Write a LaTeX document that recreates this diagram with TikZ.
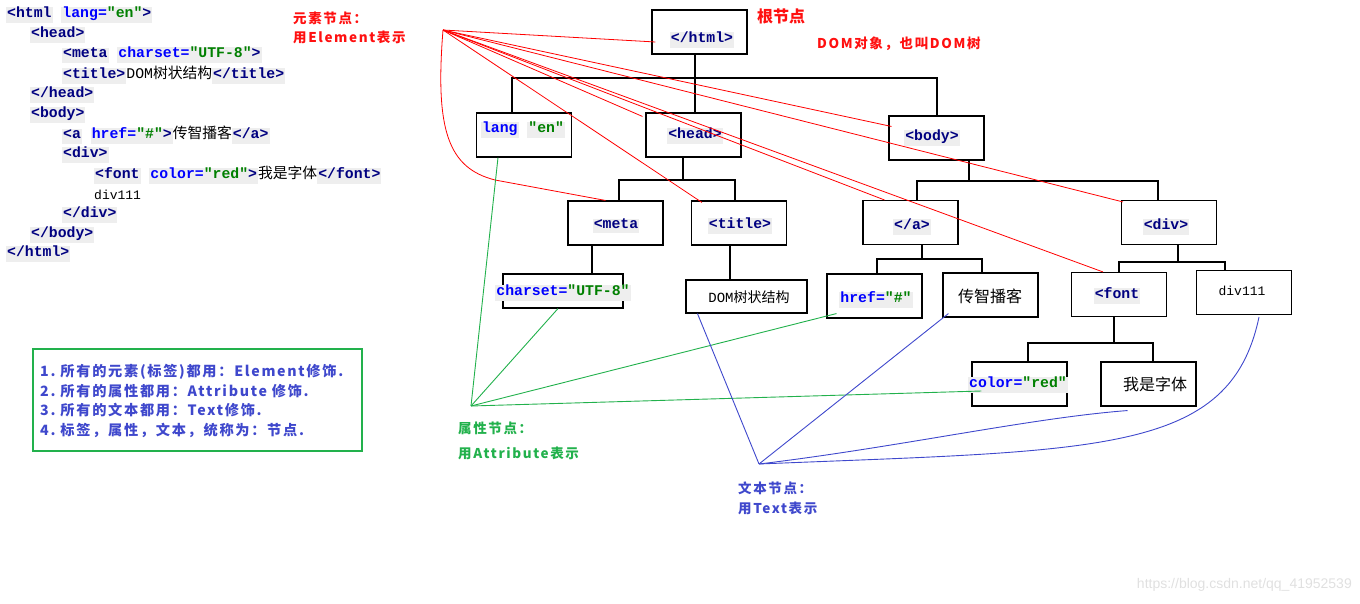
\documentclass[tikz,border=0pt]{standalone}
\usepackage{fontspec}
\setmainfont{Liberation Serif}
\newfontfamily\codefont{Liberation Mono}
\newfontfamily\cjk{Noto Sans CJK SC}
\newfontfamily\notefont{Noto Sans CJK SC}[LetterSpace=12]
\newfontfamily\wmfont{Liberation Sans}
\usetikzlibrary{positioning}

\definecolor{tagblue}{HTML}{000080}
\definecolor{attrblue}{HTML}{0000FF}
\definecolor{valgreen}{HTML}{008000}
\definecolor{codebg}{HTML}{EEEEEE}
\definecolor{notered}{HTML}{FF1010}
\definecolor{attrgreen}{HTML}{22B14C}
\definecolor{textblue}{HTML}{3F48CC}

\newcommand\tagtxt[1]{\textcolor{tagblue}{#1}}
\newcommand\attrtxt[1]{\textcolor{attrblue}{#1}}
\newcommand\valtxt[1]{\textcolor{valgreen}{#1}}
\newcommand\cstrut{\rule[-5pt]{0pt}{14.5pt}}
\newcommand\codehl[1]{{\setlength\fboxsep{0pt}\colorbox{codebg}{\kern1pt\cstrut#1\kern1pt}}}

\begin{document}
\begin{tikzpicture}[x=1pt,y=-1pt,
  code/.style={anchor=west, inner sep=0pt, font={\codefont\bfseries\fontsize{14.8}{20}\selectfont}},
  lbl/.style={inner sep=0pt, font={\codefont\bfseries\fontsize{14.8}{20}\selectfont}},
  plain/.style={inner sep=0pt, font={\codefont\fontsize{13}{20}\selectfont}},
  hanzi/.style={inner sep=0pt, font={\cjk\fontsize{16}{20}\selectfont}},
  box/.style={draw, line width=1.1pt, minimum width=95pt, minimum height=44pt, inner sep=0pt},
  tree/.style={line width=1.1pt},
  note/.style={anchor=west, inner sep=0pt, font={\notefont\bfseries\fontsize{13.5}{16}\selectfont}},
  legend/.style={anchor=west, align=left, inner sep=0pt, text=textblue,
    font={\notefont\bfseries\fontsize{14.2}{19.7}\selectfont}},
  elemline/.style={red, line width=0.8pt},
  attrline/.style={attrgreen, line width=0.9pt},
  textline/.style={textblue, line width=0.9pt}]

\useasboundingbox (0,0) rectangle (1360,604);

% html source
\node[code] (c1) at (6,15) {\codehl{\tagtxt{<html}} \codehl{\attrtxt{lang=}\valtxt{"en"}\tagtxt{>}}};
\node[code] (c2) at (30,35) {\codehl{\tagtxt{<head>}}};
\node[code] (c3) at (62,55) {\codehl{\tagtxt{<meta}} \codehl{\attrtxt{charset=}\valtxt{"UTF-8"}\tagtxt{>}}};
\node[code] (c4) at (62,75) {\codehl{\tagtxt{<title>}}{\mdseries DOM{\cjk 树状结构}}\codehl{\tagtxt{</title>}}};
\node[code] (c5) at (30,95) {\codehl{\tagtxt{</head>}}};
\node[code] (c6) at (30,115) {\codehl{\tagtxt{<body>}}};
\node[code] (c7) at (62,135) {\codehl{\tagtxt{<a}} \codehl{\attrtxt{href=}\valtxt{"\#"}\tagtxt{>}}{\cjk\mdseries 传智播客}\codehl{\tagtxt{</a>}}};
\node[code] (c8) at (62,155) {\codehl{\tagtxt{<div>}}};
\node[code] (c9) at (94,175) {\codehl{\tagtxt{<font}} \codehl{\attrtxt{color=}\valtxt{"red"}\tagtxt{>}}{\cjk\mdseries 我是字体}\codehl{\tagtxt{</font>}}};
\node[code] (c10) at (94,195) {{\mdseries\fontsize{13}{20}\selectfont div111}};
\node[code] (c11) at (62,215) {\codehl{\tagtxt{</div>}}};
\node[code] (c12) at (30,235) {\codehl{\tagtxt{</body>}}};
\node[code] (c13) at (6,254) {\codehl{\tagtxt{</html>}}};

% legend
\node[draw=attrgreen, line width=2.6pt, minimum width=329pt, minimum height=102pt, inner sep=0pt] (legend) at (197.5,400) {};
\node[legend] (legend-t) at (40,401) {1.\ 所有的元素(标签)都用：Element修饰.\\2.\ 所有的属性都用：Attribute 修饰.\\3.\ 所有的文本都用：Text修饰.\\4.\ 标签，属性，文本，统称为：节点.};

% DOM tree
\node[box] (html) at (699.5,32) {};
\node[lbl] (html-t) at (702,40) {\codehl{\tagtxt{</html>}}};
\node[box] (lang) at (524,135) {};
\node[lbl] (lang-t) at (523,130) {\codehl{\attrtxt{lang}} \codehl{\valtxt{"en"}}};
\node[box] (head) at (693.5,135) {};
\node[lbl] (head-t) at (695,136) {\codehl{\tagtxt{<head>}}};
\node[box] (body) at (936.5,138) {};
\node[lbl] (body-t) at (932,138) {\codehl{\tagtxt{<body>}}};
\node[box] (meta) at (615.5,223) {};
\node[lbl] (meta-t) at (616,226) {\codehl{\tagtxt{<meta}}};
\node[box] (title) at (739,223) {};
\node[lbl] (title-t) at (740,226) {\codehl{\tagtxt{<title>}}};
\node[box] (a) at (910.5,222.5) {};
\node[lbl] (a-t) at (912,227) {\codehl{\tagtxt{</a>}}};
\node[box] (div) at (1169,222.5) {};
\node[lbl] (div-t) at (1166,227) {\codehl{\tagtxt{<div>}}};
\node[box, minimum width=120pt, minimum height=34pt] (charset) at (563,291) {};
\node[lbl] (charset-t) at (563,293) {\codehl{\attrtxt{charset=}\valtxt{"UTF-8"}}};
\node[box, minimum width=121pt, minimum height=33pt] (domtext) at (746.5,296.5) {};
\node[lbl, font={\codefont\fontsize{14}{20}\selectfont}] (domtext-t) at (749,297) {DOM{\cjk 树状结构}};
\node[box] (href) at (874.5,296) {};
\node[lbl] (href-t) at (876,300) {\codehl{\attrtxt{href=}\valtxt{"\#"}}};
\node[box] (chuanzhi) at (990.5,295) {};
\node[hanzi] (chuanzhi-t) at (990,296) {传智播客};
\node[box] (font) at (1119,294.5) {};
\node[lbl] (font-t) at (1117,296) {\codehl{\tagtxt{<font}}};
\node[box] (div111) at (1244,292.5) {};
\node[plain] (div111-t) at (1242,291) {div111};
\node[box] (color) at (1019.5,384) {};
\node[lbl] (color-t) at (1018,385) {\codehl{\attrtxt{color=}\valtxt{"red"}}};
\node[box] (woshi) at (1148.5,384) {};
\node[hanzi] (woshi-t) at (1155,384) {我是字体};

% tree links
\draw[tree] (695,0 |- html.south) -- (695,78)
  (512,0 |- lang.north) |- (937,78) -- (937,0 |- body.north)
  (695,78) -- (695,0 |- head.north);
\draw[tree] (683,0 |- head.south) -- (683,180)
  (619,0 |- meta.north) |- (735,180) -- (735,0 |- title.north);
\draw[tree] (969,0 |- body.south) -- (969,181)
  (917,0 |- a.north) |- (1158,181) -- (1158,0 |- div.north);
\draw[tree] (592,0 |- meta.south) -- (592,0 |- charset.north);
\draw[tree] (730,0 |- title.south) -- (730,0 |- domtext.north);
\draw[tree] (922,0 |- a.south) -- (922,259)
  (877,0 |- href.north) |- (982,259) -- (982,0 |- chuanzhi.north);
\draw[tree] (1178,0 |- div.south) -- (1178,262)
  (1119,0 |- font.north) |- (1225,262) -- (1225,0 |- div111.north);
\draw[tree] (1114,0 |- font.south) -- (1114,343)
  (1028,0 |- color.north) |- (1153,343) -- (1153,0 |- woshi.north);

% notes
\node[note, text=notered] (elem-l1) at (293,18) {元素节点：};
\node[note, text=notered] (elem-l2) at (293,37) {用Element表示};
\node[anchor=west, inner sep=0pt, text=notered, font={\cjk\bfseries\fontsize{16}{18}\selectfont}] (root-l) at (757,16) {根节点};
\node[note, text=notered] (tree-l) at (817,44) {DOM对象，也叫DOM树};
\node[note, text=attrgreen] (attr-l1) at (458,428) {属性节点：};
\node[note, text=attrgreen] (attr-l2) at (458,453) {用Attribute表示};
\node[note, text=textblue] (text-l1) at (738,488) {文本节点：};
\node[note, text=textblue] (text-l2) at (738,508) {用Text表示};
\node[anchor=east, inner sep=0pt, text=black!12, font={\wmfont\fontsize{14}{16}\selectfont}] (mark) at (1352,585) {https://blog.csdn.net/qq\_41952539};

% element pointers
\coordinate (E) at (443,30);
\draw[elemline] (E) -- ([shift={(4,10)}]html.west);
\draw[elemline] (E) -- ([shift={(-3,4)}]head.north west);
\draw[elemline] (E) -- ([shift={(3,11)}]body.north west);
\draw[elemline] (E) .. controls (435,130) and (448,168) .. (495,180) -- ([xshift=-10]meta.north);
\draw[elemline] (E) -- ([shift={(11,2)}]title.north west);
\draw[elemline] (E) -- ([xshift=22]a.north west);
\draw[elemline] (E) -- ([xshift=-16]font.north);
\draw[elemline] (E) -- ([shift={(2,2)}]div.north west);

% attribute pointers
\coordinate (A) at (471,406);
\draw[attrline] (A) -- ([xshift=-26]lang.south);
\draw[attrline] (A) -- ([xshift=-5]charset.south);
\draw[attrline] (A) -- ([shift={(10,-5)}]href.south west);
\draw[attrline] (A) -- ([shift={(10,7)}]color.west);

% text pointers
\coordinate (T) at (759,464);
\draw[textline] (T) -- ([xshift=12]domtext.south west);
\draw[textline] (T) -- ([shift={(6,-4)}]chuanzhi.south west);
\draw[textline] (T) .. controls (900,447) and (1030,418) .. ([shift={(-21,4)}]woshi.south);
\draw[textline] (T) .. controls (1100,450) and (1230,455) .. ([shift={(15,2)}]div111.south);

\end{tikzpicture}
\end{document}
